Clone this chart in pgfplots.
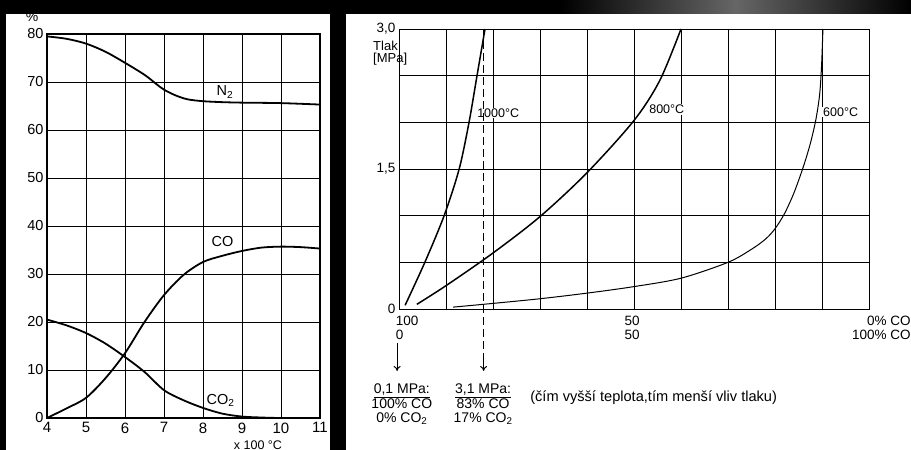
\documentclass[border=0pt]{standalone}
\usepackage{pgfplots}
\pgfplotsset{compat=1.18}
\usepackage{fontspec}
\setmainfont{Liberation Sans}
\usetikzlibrary{arrows.meta}
\begin{document}
\begin{tikzpicture}
\useasboundingbox (0pt,0pt) rectangle (911pt,450pt);
\fill[black] (0pt,0pt) rectangle (911pt,450pt);
\shade[left color=black,right color=black,middle color=black!60!white] (560pt,436pt) rectangle (911pt,450pt);
\fill[white] (6pt,0pt) rectangle (330pt,436pt);
\fill[white] (346pt,0pt) rectangle (911pt,436pt);

\begin{axis}[
 at={(47pt,32pt)}, anchor=south west, scale only axis, width=273pt, height=384pt,
 xmin=4,xmax=11,ymin=0,ymax=80,
 xtick={4,...,11}, ytick={0,10,...,80},
 grid=major, major grid style={black,line width=0.8pt},
 axis line style={black,line width=1.1pt},
 major tick length=0pt,
 /pgf/number format/assume math mode=true,
 yticklabel style={font=\fontsize{14.5}{14.5}\selectfont},
 xticklabel style={font=\fontsize{15}{15}\selectfont,yshift=-1pt},
 clip=false,
]
\addplot[black,line width=1.8pt,smooth] coordinates {(4,79.5)(4.5,79)(5,78)(5.5,76.3)(6,74)(6.5,71.5)(6.8,69.6)(7,68.4)(7.3,67.2)(7.6,66.4)(8,66)(8.5,65.8)(9,65.7)(10,65.6)(11,65.3)};
\addplot[black,line width=1.8pt,smooth] coordinates {(4,0)(4.5,2)(5,4.2)(5.5,8.3)(6,13.5)(6.5,20)(7,25.6)(7.5,29.8)(8,32.5)(8.5,33.8)(9,34.8)(9.5,35.5)(10,35.7)(10.5,35.6)(11,35.3)};
\addplot[black,line width=1.8pt,smooth] coordinates {(4,20.5)(4.5,19.3)(5,17.7)(5.5,15.5)(6,12.7)(6.5,9.6)(7,5.8)(7.5,3.7)(8,2.1)(8.5,0.9)(9,0.3)(9.5,0.1)(10,0)(11,0)};
\node[font=\fontsize{14.5}{14.5}\selectfont] at (axis cs:8.56,67.9) {N\textsubscript{2}};
\node[font=\fontsize{14.5}{14.5}\selectfont] at (axis cs:8.5,36.7) {CO};
\node[font=\fontsize{14.5}{14.5}\selectfont] at (axis cs:8.45,3.6) {CO\textsubscript{2}};
\node[font=\fontsize{14}{14}\selectfont,inner sep=0pt] at (axis cs:3.62,83.6) {\%};
\node[font=\fontsize{12.5}{12.5}\selectfont,anchor=north,inner sep=0pt] at (axis cs:9.41,-4.75) {x 100 °C};
\end{axis}

\begin{axis}[
 at={(399pt,141pt)}, anchor=south west, scale only axis, width=470pt, height=280pt,
 xmin=0,xmax=100,ymin=0,ymax=3,
 xtick={0,10,...,100}, xticklabels={},
 ytick={0,0.5,1,1.5,2,2.5,3}, yticklabels={{0},{},{},{1,5},{},{},{3,0}},
 grid=major, major grid style={black,line width=0.6pt},
 axis line style={black,line width=0.8pt},
 major tick length=0pt,
 yticklabel style={font=\fontsize{13.5}{13.5}\selectfont},
 clip=false,
]
\addplot[black,line width=1.5pt,smooth] coordinates {(1.3,0.04)(5.5,0.5)(9.6,1.0)(12.8,1.5)(14.9,2.0)(16.6,2.5)(18.3,3.0)};
\addplot[black,line width=1.5pt,smooth] coordinates {(3.8,0.05)(10,0.25)(20,0.6)(30,0.99)(40,1.46)(50,2.02)(55.5,2.45)(60,3.0)};
\addplot[black,line width=1pt,smooth] coordinates {(11.5,0.02)(20,0.06)(30,0.11)(40,0.17)(50,0.24)(60,0.33)(70,0.5)(75,0.64)(78,0.75)(80,0.86)(82,1.02)(84,1.24)(86,1.52)(87.5,1.77)(88.7,2.03)(89.5,2.3)(89.9,2.6)(90.2,3.0)};
\node[fill=white,inner sep=1pt,anchor=west,font=\fontsize{12.5}{12.5}\selectfont] at (axis cs:16.4,2.1) {1000°C};
\node[fill=white,inner sep=1pt,anchor=west,font=\fontsize{12.5}{12.5}\selectfont] at (axis cs:53,2.14) {800°C};
\node[fill=white,inner sep=1pt,anchor=west,font=\fontsize{12.5}{12.5}\selectfont] at (axis cs:90,2.11) {600°C};
\draw[black,line width=1pt,dash pattern=on 8pt off 4pt] (axis cs:18,3) -- (axis cs:18,-0.5);
\draw[black,line width=1pt,-{To[length=5pt,width=7pt]}] (axis cs:18,-0.5) -- (axis cs:18,-0.664);
\draw[black,line width=1pt,-{To[length=5pt,width=7pt]}] (axis cs:-0.4,-0.364) -- (axis cs:-0.4,-0.664);
\node[anchor=north west,align=left,inner sep=0pt,font=\fontsize{13.5}{14}\selectfont] at (axis cs:-0.7,-0.075) {100\\0};
\node[anchor=north,align=center,inner sep=0pt,font=\fontsize{13.5}{14}\selectfont] at (axis cs:49.6,-0.075) {50\\50};
\node[anchor=north east,align=right,inner sep=0pt,font=\fontsize{13.5}{14}\selectfont] at (axis cs:108.9,-0.075) {0\% CO\\100\% CO};
\node[anchor=north,align=center,inner sep=0pt,font=\fontsize{14}{14.5}\selectfont] at (axis cs:0.6,-0.80) {\underline{0,1 MPa:}\\100\% CO\\0\% CO\textsubscript{2}};
\node[anchor=north,align=center,inner sep=0pt,font=\fontsize{14}{14.5}\selectfont] at (axis cs:17.9,-0.80) {\underline{3,1 MPa:}\\83\% CO\\17\% CO\textsubscript{2}};
\node[anchor=west,inner sep=0pt,font=\fontsize{14.6}{15}\selectfont] at (axis cs:27.9,-0.954) {(čím vyšší teplota,tím menší vliv tlaku)};
\end{axis}
\node[anchor=north west,align=left,inner sep=0pt,font=\fontsize{13}{12}\selectfont] at (373pt,409pt) {Tlak\\{[}MPa{]}};
\end{tikzpicture}
\end{document}
